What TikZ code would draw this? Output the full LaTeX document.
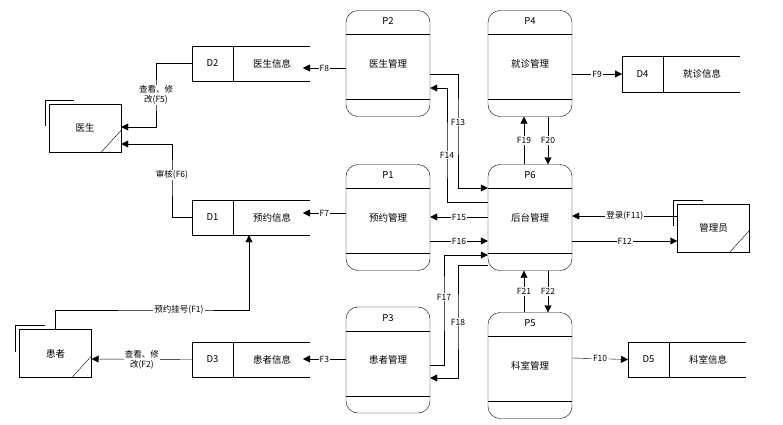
\documentclass[tikz,border=0pt]{standalone}
\usepackage{fontspec}
\setmainfont{Noto Sans CJK SC}
\usetikzlibrary{arrows.meta}
\tikzset{
  proc/.style={draw, rounded corners=12pt, minimum width=84pt, minimum height=106pt, inner sep=0},
  ext/.style={draw, minimum width=72pt, minimum height=48pt, inner sep=0},
  flow/.style={-{Triangle[length=7pt,width=7pt]}},
  lbl/.style={fill=white, inner sep=1pt, font=\fontsize{8.5pt}{10pt}\selectfont, align=center},
}
% process box: name, centre x, centre y, id, text
\newcommand\proc[5]{%
  \node[proc] (#1) at (#2,#3) {#5};
  \draw (#1.west |- 0,#3-29) -- (#1.east |- 0,#3-29);
  \draw (#1.west |- 0,#3+36) -- (#1.east |- 0,#3+36);
  \node at (#2,#3-42) {#4};}
% data store: name, left x, centre y, id, text
\newcommand\store[5]{%
  \node[minimum width=118pt, minimum height=35pt, inner sep=0, anchor=west] (#1) at (#2,#3) {};
  \draw (#1.north east) -- (#1.north west) -- (#1.south west) -- (#1.south east);
  \draw (#2+41,#3-17.5) -- (#2+41,#3+17.5);
  \node at (#2+20.5,#3) {#4};
  \node at (#2+80,#3) {#5};}
% external entity: name, centre x, centre y, text
\newcommand\extent[4]{%
  \node[ext] (#1) at (#2,#3) {#4};
  \draw (#2-40,#3-2) |- (#2-11,#3-28);
  \draw ([xshift=-20pt]#1.south east) -- ([yshift=22pt]#1.south east);}
\begin{document}
\begin{tikzpicture}[x=1pt,y=-1pt,font=\fontsize{9.5pt}{11pt}\selectfont]
\useasboundingbox (0,0) rectangle (783,424);
\proc{p2}{388}{63.5}{P2}{医生管理}
\proc{p1}{388}{217.5}{P1}{预约管理}
\proc{p3}{388}{360}{P3}{患者管理}
\proc{p4}{530}{63.5}{P4}{就诊管理}
\proc{p6}{530}{217.5}{P6}{后台管理}
\proc{p5}{530}{365.5}{P5}{科室管理}
\store{d2}{192}{63.5}{D2}{医生信息}
\store{d1}{192}{217.5}{D1}{预约信息}
\store{d3}{192}{359.5}{D3}{患者信息}
\store{d4}{622}{74}{D4}{就诊信息}
\store{d5}{628}{359.5}{D5}{科室信息}
\extent{doc}{85}{128}{医生}
\extent{pat}{55.5}{353.5}{患者}
\extent{adm}{713.5}{228}{管理员}
% flows to stores
\draw[flow] (p2.west |- 0,68) -- node[lbl]{F8} (303,68);
\draw[flow] (p1.west |- 0,213) -- node[lbl]{F7} (303,213);
\draw[flow] (p3.west |- 0,359) -- node[lbl]{F3} (303,359);
\draw[flow] (p4.east |- 0,74) -- node[lbl]{F9} (d4.west);
\draw[flow] (p5.east |- 0,358) -- node[lbl]{F10} (d5.west);
% external entities
\draw[flow] (d2.west) -| (156,95) node[lbl]{查看、修\\改(F5)} |- (doc.east |- 0,127);
\draw[flow] (d1.west) -| (172,175) node[lbl]{审核(F6)} |- (doc.east |- 0,144);
\draw[flow] (pat.north) |- (179,310) node[lbl]{预约挂号(F1)} -| (d1.south west -| 249,0);
\draw[flow] (d3.west) -- node[lbl, fill=white]{查看、修\\改(F2)} (pat.east |- 0,359);
\draw[flow] (adm.west |- 0,216) -- node[lbl]{登录(F11)} (p6.east |- 0,216);
\draw[flow] (p6.east |- 0,241) -- node[lbl]{F12} (adm.west |- 0,241);
% between processes
\draw[flow] (p2.east |- 0,74) -| (458,122) node[lbl]{F13} |- (p6.west |- 0,188);
\draw[flow] (p6.west |- 0,202) -| (447,155) node[lbl]{F14} |- (p2.east |- 0,88);
\draw[flow] (p6.west |- 0,217) -- node[lbl]{F15} (p1.east |- 0,217);
\draw[flow] (p1.east |- 0,241) -- node[lbl]{F16} (p6.west |- 0,241);
\draw[flow] (p3.east |- 0,365) -| (444,297) node[lbl]{F17} |- (p6.west |- 0,255);
\draw[flow] (p6.west |- 0,265) -| (458,322) node[lbl]{F18} |- (p3.east |- 0,378);
\draw[flow] (p6.north -| 524,0) -- node[lbl]{F19} (p4.south -| 524,0);
\draw[flow] (p4.south -| 548,0) -- node[lbl]{F20} (p6.north -| 548,0);
\draw[flow] (p5.north -| 524,0) -- node[lbl]{F21} (p6.south -| 524,0);
\draw[flow] (p6.south -| 548,0) -- node[lbl]{F22} (p5.north -| 548,0);
\end{tikzpicture}
\end{document}
